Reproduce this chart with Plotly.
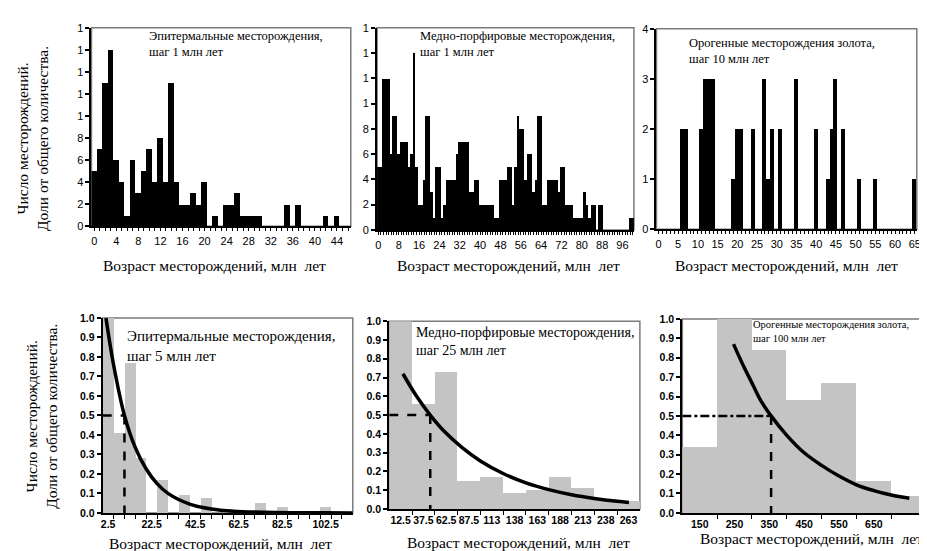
import plotly.graph_objects as go

W, H = 927, 551

# ---------------- data ----------------
# Top-left: epithermal deposits, 1 Myr step (bins 0..46)
epi_bins = list(range(47))
epi_counts = [5, 7, 13, 16, 6, 4, 1, 6, 3, 5, 7, 4, 8, 4, 13, 4, 2, 2, 3, 2, 4, 0, 1,
              0, 2, 2, 3, 1, 1, 1, 1, 0, 0, 0, 0, 2, 0, 2, 0, 0, 0, 0, 1, 0, 1, 0, 0]
epi_xlabels = {i: str(i) for i in range(0, 45, 4)}
epi_yvals = [0, 2, 4, 6, 8, 10, 12, 14, 16, 18]
epi_ytext = ["0", "2", "4", "6", "8", "1", "1", "1", "1", "1"]

# Top-middle: porphyry copper deposits, 1 Myr step (bins 0..100)
por_bins = list(range(101))
por_counts = [5, 5, 12, 12, 12, 6, 9, 9, 6, 7, 7, 7, 5, 6, 14, 5, 2, 2, 4, 9, 9, 3, 1, 5, 5,
              1, 2, 4, 4, 4, 4, 6, 7, 7, 7, 7, 3, 3, 4, 4, 2, 2, 2, 2, 2, 2, 1, 1, 4, 4, 4,
              5, 5, 2, 5, 9, 8, 8, 4, 6, 6, 3, 4, 9, 9, 2, 2, 4, 4, 4, 4, 3, 5, 5, 2, 2, 2,
              1, 1, 1, 1, 3, 2, 1, 2, 2, 0, 2, 2, 0, 0, 0, 0, 0, 0, 0, 0, 0, 0, 1, 1]
por_xlabels = {i: str(i) for i in range(0, 97, 8)}
por_yvals = [0, 2, 4, 6, 8, 10, 12, 14, 16]
por_ytext = ["0", "2", "4", "6", "8", "1", "1", "1", "1"]

# Top-right: orogenic gold deposits, 10 Myr step (bins 0..65)
oro_bins = list(range(66))
oro_nonzero = {6: 2, 7: 2, 11: 2, 12: 3, 13: 3, 14: 3, 19: 1, 20: 2, 21: 2, 24: 2,
               27: 3, 28: 1, 29: 2, 31: 2, 35: 3, 40: 2, 43: 1, 44: 2, 45: 3, 47: 2,
               51: 1, 55: 1, 65: 1}
oro_counts = [oro_nonzero.get(i, 0) for i in oro_bins]
oro_xlabels = {i: str(i) for i in range(0, 66, 5)}
oro_yvals = [0, 1, 2, 3, 4]

# Bottom-left: epithermal, 5 Myr step (fractions)
epi5_centers = [2.5 + 5 * i for i in range(23)]
epi5_frac = [1.0, 0.41, 0.77, 0.28, 0.0, 0.17, 0.0, 0.09, 0.0, 0.075, 0.0, 0.02,
             0.0, 0.0, 0.05, 0.0, 0.03, 0.0, 0.0, 0.0, 0.03, 0.0, 0.0]
epi5_labels = ["2.5", "22.5", "42.5", "62.5", "82.5", "102.5"]
epi5_curve_x = [1.5, 5, 10, 15, 20, 25, 30, 40, 50, 60, 80, 100, 115]
epi5_curve_y = [1.0, 0.76, 0.5, 0.335, 0.225, 0.15, 0.10, 0.045, 0.02, 0.009, 0.002, 0.0005, 0.0]
epi5_half_x = 10

# Bottom-middle: porphyry copper, 25 Myr step
por25_centers = [12.5 + 25 * i for i in range(11)]
por25_frac = [1.0, 0.56, 0.73, 0.15, 0.17, 0.085, 0.10, 0.17, 0.11, 0.05, 0.04]
por25_labels = ["12.5", "37.5", "62.5", "87.5", "113", "138", "163", "188", "213", "238", "263"]
por25_curve_x = [15, 30, 45, 60, 80, 100, 125, 150, 175, 200, 225, 250, 263]
por25_curve_y = [0.72, 0.60, 0.50, 0.415, 0.327, 0.256, 0.189, 0.139, 0.103, 0.076, 0.056, 0.041, 0.035]
por25_half_x = 45

# Bottom-right: orogenic gold, 100 Myr step
oro100_centers = [150, 250, 350, 450, 550, 650, 750]
oro100_frac = [0.34, 1.0, 0.84, 0.58, 0.67, 0.165, 0.09]
oro100_labels = ["150", "250", "350", "450", "550", "650"]
oro100_curve_x = [247, 275, 300, 325, 355, 400, 450, 500, 550, 600, 650, 700, 752]
oro100_curve_y = [0.87, 0.76, 0.67, 0.58, 0.50, 0.40, 0.31, 0.245, 0.19, 0.145, 0.115, 0.092, 0.075]
oro100_half_x = 355

frac_ticks = [round(0.1 * i, 1) for i in range(11)]
frac_text = ["%.1f" % v for v in frac_ticks]

titles = [
    "Эпитермальные месторождения,<br>шаг 1 млн лет",
    "Медно-порфировые месторождения,<br>шаг 1 млн лет",
    "Орогенные месторождения золота,<br>шаг 10 млн лет",
    "Эпитермальные месторождения,<br>шаг 5 млн лет",
    "Медно-порфировые месторождения,<br>шаг 25 млн лет",
    "Орогенные месторождения золота,<br>шаг 100 млн лет",
]
xtitle = "Возраст месторождений, млн  лет"
ytitle = "Число месторождений.<br>Доли от общего количества."

# ---------------- layout helpers ----------------
def dx(a, b):
    return [a / W, b / W]

def dy(top, bottom):
    return [1 - bottom / H, 1 - top / H]

SERIF = "Liberation Serif, Times New Roman, serif"
SANS = "Liberation Sans, Arial, sans-serif"
tickfont_top = dict(family=SANS, size=11, color="black")
tickfont_bot = dict(family=SANS, size=10.5, color="black", weight="bold")
GRAY = "#c4c4c4"

fig = go.Figure()

# top row bars
fig.add_trace(go.Bar(x=epi_bins, y=epi_counts, width=1, marker=dict(color="black", line=dict(width=0)),
                     xaxis="x", yaxis="y", showlegend=False))
fig.add_trace(go.Bar(x=por_bins, y=por_counts, width=1, marker=dict(color="black", line=dict(width=0)),
                     xaxis="x2", yaxis="y2", showlegend=False))
fig.add_trace(go.Bar(x=oro_bins, y=oro_counts, width=1, marker=dict(color="black", line=dict(width=0)),
                     xaxis="x3", yaxis="y3", showlegend=False))

# bottom row bars + curves + dashed guides
bottom = [
    ("x4", "y4", epi5_centers, epi5_frac, 5, epi5_curve_x, epi5_curve_y, epi5_half_x, 0, "dash"),
    ("x5", "y5", por25_centers, por25_frac, 25, por25_curve_x, por25_curve_y, por25_half_x, 0, "dash"),
    ("x6", "y6", oro100_centers, oro100_frac, 100, oro100_curve_x, oro100_curve_y, oro100_half_x, 100, "dashdot"),
]
for xa, ya, cx, fy, w, kx, ky, hx, x0, hdash in bottom:
    fig.add_trace(go.Bar(x=cx, y=fy, width=w, marker=dict(color=GRAY, line=dict(width=0)),
                         xaxis=xa, yaxis=ya, showlegend=False))
    fig.add_trace(go.Scatter(x=[x0, hx], y=[0.5, 0.5], mode="lines",
                             line=dict(color="black", width=2.5, dash=hdash),
                             xaxis=xa, yaxis=ya, showlegend=False))
    fig.add_trace(go.Scatter(x=[hx, hx], y=[0.5, 0], mode="lines",
                             line=dict(color="black", width=2.5, dash="dash"),
                             xaxis=xa, yaxis=ya, showlegend=False))
    fig.add_trace(go.Scatter(x=kx, y=ky, mode="lines",
                             line=dict(color="black", width=3.5, shape="spline"),
                             xaxis=xa, yaxis=ya, showlegend=False))

layout = dict(
    width=W, height=H, margin=dict(l=0, r=0, t=0, b=0),
    paper_bgcolor="white", plot_bgcolor="white",
    bargap=0, showlegend=False,
)

def xax(dom, anchor, rng, tickvals, ticktext, font, minor=None):
    d = dict(domain=dom, anchor=anchor, range=rng, showgrid=False, zeroline=False,
             showline=True, linecolor="black", linewidth=1.5,
             tickmode="array", tickvals=tickvals, ticktext=ticktext, tickangle=0,
             ticks="outside", ticklen=3, tickwidth=1, tickcolor="black",
             tickfont=font, ticklabelstandoff=1)
    if minor is not None:
        d["ticks"] = ""
        d["minor"] = dict(tickmode="array", tickvals=minor, ticks="outside", ticklen=4,
                          tickwidth=1, tickcolor="black", showgrid=False)
    return d

def yax(dom, anchor, rng, tickvals, ticktext, font):
    return dict(domain=dom, anchor=anchor, range=rng, showgrid=False, zeroline=False,
                showline=True, linecolor="black", linewidth=2,
                tickmode="array", tickvals=tickvals, ticktext=ticktext,
                ticks="outside", ticklen=4, tickwidth=1.5, tickcolor="black",
                tickfont=font, ticklabelstandoff=0)

# Top-left
layout["xaxis"] = xax(dx(82, 343), "y", [-0.5, 46.5], epi_bins,
                      [epi_xlabels.get(i, "") for i in epi_bins], tickfont_top)
layout["yaxis"] = yax(dy(14, 217), "x", [0, 18], epi_yvals, epi_ytext, tickfont_top)
# Top-middle
layout["xaxis2"] = xax(dx(369.5, 628), "y2", [-0.5, 100.5], por_bins,
                       [por_xlabels.get(i, "") for i in por_bins], tickfont_top)
layout["yaxis2"] = yax(dy(14, 220.7), "x2", [0, 16], por_yvals, por_ytext, tickfont_top)
# Top-right
layout["xaxis3"] = xax(dx(650.7, 912.7), "y3", [-0.5, 65.5], oro_bins,
                       [oro_xlabels.get(i, "") for i in oro_bins], tickfont_top)
layout["yaxis3"] = yax(dy(15, 220), "x3", [0, 4], oro_yvals, [str(v) for v in oro_yvals], tickfont_top)
# Bottom-left
epi5_lab_pos = [epi5_centers[i] for i in range(0, 21, 4)]
layout["xaxis4"] = xax(dx(93.3, 345), "y4", [0, 115], epi5_lab_pos, epi5_labels, tickfont_bot,
                       minor=[5 * i for i in range(1, 23)])
layout["yaxis4"] = yax(dy(310.7, 510), "x4", [0, 1.0], frac_ticks, frac_text, tickfont_bot)
# Bottom-middle
layout["xaxis5"] = xax(dx(381.7, 634), "y5", [0, 275], por25_centers, por25_labels, tickfont_bot,
                       minor=[25 * i for i in range(1, 11)])
layout["yaxis5"] = yax(dy(314, 506), "x5", [0, 1.0], frac_ticks, frac_text, tickfont_bot)
# Bottom-right
layout["xaxis6"] = xax(dx(676.7, 922), "y6", [100, 800], oro100_centers[:6], oro100_labels, tickfont_bot,
                       minor=[200, 300, 400, 500, 600, 700])
layout["yaxis6"] = yax(dy(311.7, 510), "x6", [0, 1.0], frac_ticks, frac_text, tickfont_bot)

# gray frames (top/right borders)
shapes = []
for i in range(1, 7):
    s = "" if i == 1 else str(i)
    shapes.append(dict(type="rect", xref="x%s domain" % s, yref="y%s domain" % s,
                       x0=0, x1=1, y0=0, y1=1, line=dict(color="#7a7a7a", width=1.5),
                       layer="below"))
layout["shapes"] = shapes

ann = []
def A(text, px, py, size, xanchor="left", yanchor="top", angle=0, align="left"):
    ann.append(dict(text=text, x=px / W, y=1 - py / H, xref="paper", yref="paper",
                    xanchor=xanchor, yanchor=yanchor, showarrow=False, textangle=angle,
                    align=align, font=dict(family=SERIF, size=size, color="black")))

# panel captions
A(titles[0], 138, 13, 12.5)
A(titles[1], 411, 13, 12.5)
A(titles[2], 681, 20, 12.5)
A(titles[3], 116, 319, 15)
A(titles[4], 407, 316, 14)
A(titles[5], 746, 310, 10.5)

# x-axis titles
A(xtitle, 206, 257, 15.5, xanchor="center", yanchor="middle")
A(xtitle, 502, 257, 15.5, xanchor="center", yanchor="middle")
A(xtitle, 782, 257, 15.5, xanchor="center", yanchor="middle")
A(xtitle, 212, 541, 15.5, xanchor="center", yanchor="middle")
A(xtitle, 512, 540, 15.5, xanchor="center", yanchor="middle")
A(xtitle, 807, 536, 15.5, xanchor="center", yanchor="middle")

# y-axis titles
A(ytitle, 22, 127, 15.5, xanchor="center", yanchor="middle", angle=-90, align="center")
A(ytitle, 31, 411, 15.5, xanchor="center", yanchor="middle", angle=-90, align="center")

layout["annotations"] = ann
fig.update_layout(**layout)
fig.write_html("out.html")
